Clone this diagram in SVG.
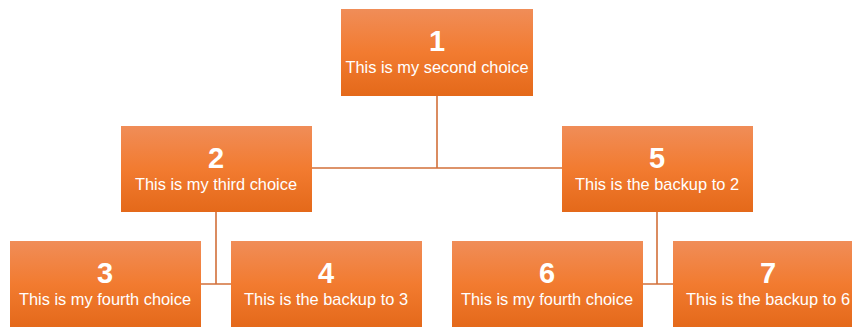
<svg xmlns="http://www.w3.org/2000/svg" width="852" height="327" viewBox="0 0 852 327">
<defs>
<linearGradient id="g" x1="0" y1="0" x2="0" y2="1">
<stop offset="0" stop-color="#F08D58"/>
<stop offset="0.5" stop-color="#F27B30"/>
<stop offset="1" stop-color="#E4691A"/>
</linearGradient>
<style>
.box{fill:url(#g);}
.num{font-family:"Liberation Sans",Arial,sans-serif;font-weight:bold;font-size:29px;fill:#fff;text-anchor:middle;}
.sub{font-family:"Liberation Sans",Arial,sans-serif;font-size:16.4px;fill:#fff;text-anchor:middle;}
.ln{stroke:#D2703A;stroke-width:1.6;fill:none;}
</style>
</defs>
<rect width="852" height="327" fill="#fff"/>
<g id="connectors">
<path class="ln" d="M437 96V168M312 168H562M216 212V284M201 284H231M657 212V284M643 284H673"/>
</g>
<g id="n1"><rect class="box" x="341" y="9" width="192" height="87"/><text class="num" x="437" y="51">1</text><text class="sub" x="437" y="72.5">This is my second choice</text></g>
<g id="n2"><rect class="box" x="121" y="126" width="191" height="86"/><text class="num" x="216" y="168">2</text><text class="sub" x="216" y="189.5">This is my third choice</text></g>
<g id="n5"><rect class="box" x="562" y="126" width="191" height="86"/><text class="num" x="657" y="168">5</text><text class="sub" x="657" y="189.5">This is the backup to 2</text></g>
<g id="n3"><rect class="box" x="10" y="241" width="191" height="86"/><text class="num" x="105" y="283">3</text><text class="sub" x="105" y="304.5">This is my fourth choice</text></g>
<g id="n4"><rect class="box" x="231" y="241" width="191" height="86"/><text class="num" x="326" y="283">4</text><text class="sub" x="326" y="304.5">This is the backup to 3</text></g>
<g id="n6"><rect class="box" x="452" y="241" width="191" height="86"/><text class="num" x="547" y="283">6</text><text class="sub" x="547" y="304.5">This is my fourth choice</text></g>
<g id="n7"><rect class="box" x="673" y="241" width="191" height="86"/><text class="num" x="768" y="283">7</text><text class="sub" x="768" y="304.5">This is the backup to 6</text></g>
</svg>
